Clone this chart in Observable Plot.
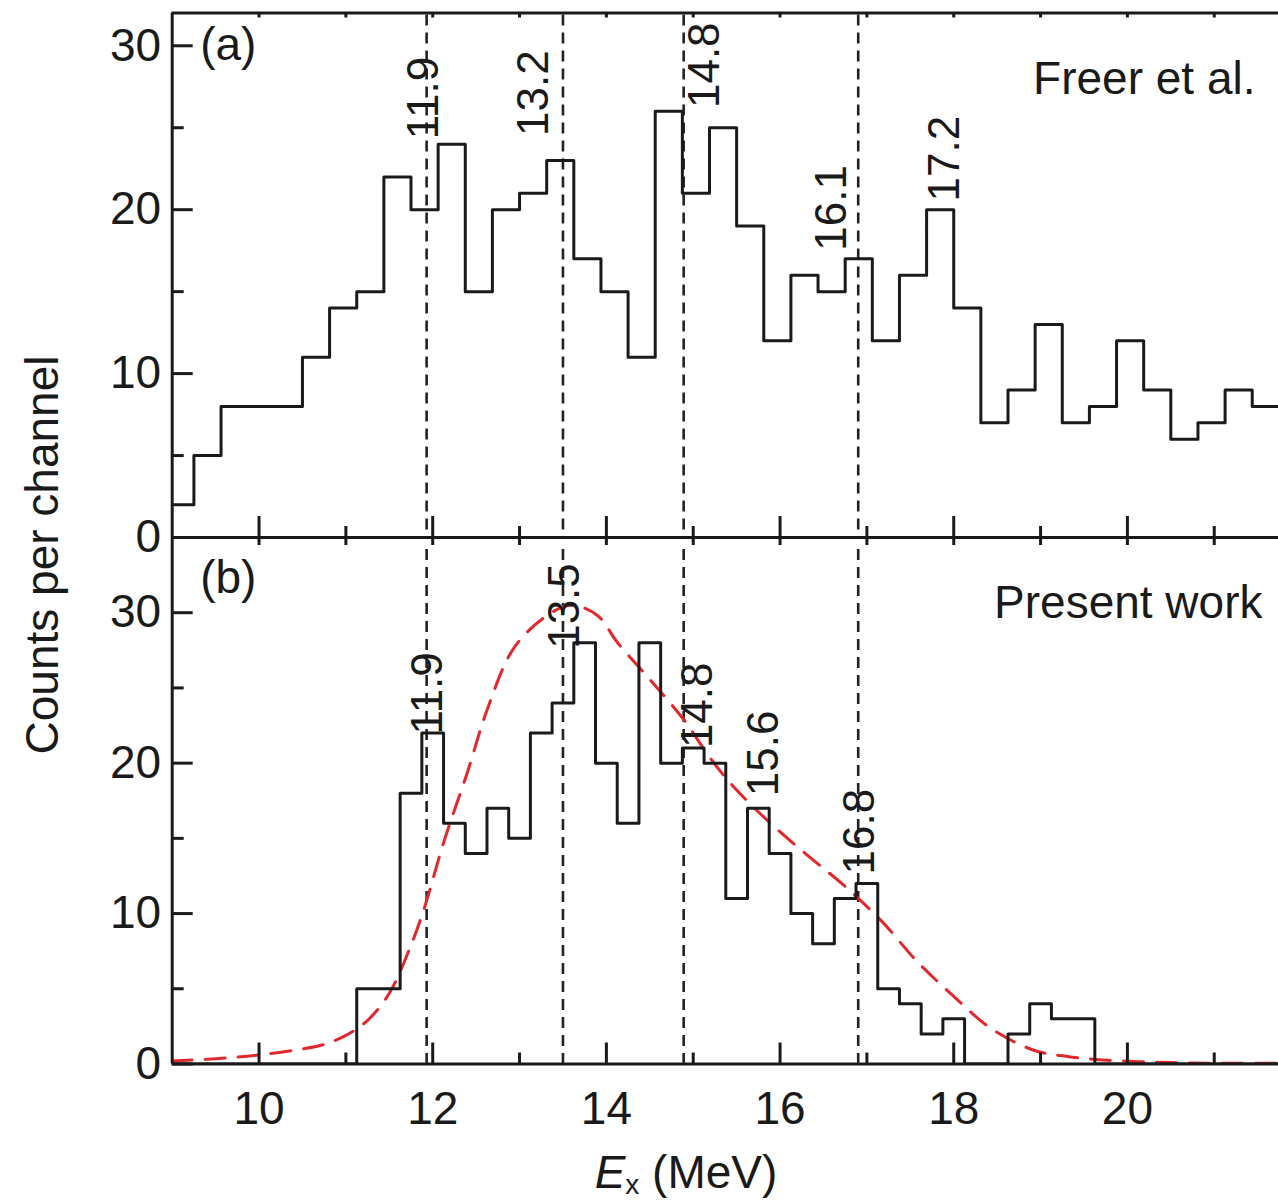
<!DOCTYPE html>
<html><head><meta charset="utf-8">
<script src="https://cdn.jsdelivr.net/npm/d3@7"></script>
<script src="https://cdn.jsdelivr.net/npm/@observablehq/plot@0.6"></script>
<style>
body{margin:0;background:#fff;}
#wrap{position:relative;width:1278px;height:1200px;overflow:hidden;font-family:"Liberation Sans",Arial,sans-serif;color:#1a1a1a;}
#wrap svg{position:absolute;left:0;top:0;}
.ttl{position:absolute;font-size:46px;line-height:46px;white-space:nowrap;text-align:center;}
</style></head><body><div id="wrap"></div>
<script>
// ---------- data ----------
const xDomain = [9, 21.74];
// (a) Freer et al. histogram
const topBinStart = 8.9375, topBinWidth = 0.3125;
const topCounts = [2,5,8,8,8,11,14,15,22,20,24,15,20,21,23,17,15,11,26,21,25,19,12,16,15,17,12,16,20,14,7,9,13,7,8,12,9,6,7,9,8];
// (b) Present work histogram
const botBinStart = 11.125, botBinWidth = 0.25;
const botCounts = [5,5,18,22,16,14,17,15,22,24,28,20,16,28,20,21,20,11,17,14,10,8,11,12,5,4,2,3,0,0,2,4,3,3,0];
// red dashed fit curve
const fitX = [9.0,9.5,10.0,10.5,10.75,11.0,11.25,11.5,11.75,11.9,12.13,12.4,12.63,12.94,13.34,13.6,13.9,14.13,14.51,14.89,15.2,15.47,15.89,16.31,16.73,17.17,17.58,18.0,18.42,18.93,19.31,19.77,20.5,21.0,21.74];
const fitY = [0.2,0.35,0.6,1.0,1.3,1.9,2.9,4.7,7.9,10.3,14.8,19.4,23.6,27.7,29.9,30.5,29.8,28.0,25.5,22.9,20.3,18.4,16.0,13.9,11.9,9.5,6.8,4.5,2.4,0.9,0.5,0.25,0.1,0.05,0.05];
// vertical dashed marker lines (MeV)
const markerLines = [11.93, 13.5, 14.89, 16.9];
// peak labels: text and anchor (x in MeV, y in counts at text start)
const topLabelText = ["11.9","13.2","14.8","16.1","17.2"];
const topLabelX = [11.9, 13.16, 15.13, 16.6, 17.9];
const topLabelY = [24.3, 24.5, 26.2, 17.5, 20.5];
const botLabelText = ["11.9","13.5","14.8","15.6","16.8"];
const botLabelX = [11.95, 13.52, 15.05, 15.81, 16.92];
const botLabelY = [21.9, 27.6, 21.0, 17.8, 12.6];
// ticks
const xTickLabels = [10,12,14,16,18,20];
const xMajor = [10,12,14,16,18,20];
const xMinor = [11,13,15,17,19,21];
const yTickLabels = [0,10,20,30];
const yMinor = [5,15,25];
const topYMax = 32, botYMax = 35;

// ---------- build tables ----------
function histPoints(start, w, counts, leadZero) {
  const pts = counts.map((c,i)=>({x:start+i*w, y:c}));
  pts.push({x:start+counts.length*w, y:counts[counts.length-1]});
  if (leadZero) { pts.unshift({x:xDomain[0], y:0}); pts.push({x:xDomain[1], y:0}); }
  return pts;
}
const topHist = histPoints(topBinStart, topBinWidth, topCounts, false);
const botHist = histPoints(botBinStart, botBinWidth, botCounts, true);
const fit = fitX.map((x,i)=>({x, y:fitY[i]}));
const topLabels = topLabelText.map((t,i)=>({t, x:topLabelX[i], y:topLabelY[i]}));
const botLabels = botLabelText.map((t,i)=>({t, x:botLabelX[i], y:botLabelY[i]}));

const W = 1278, ML = 171.7;
const PW = W - ML;
const ink = "#1a1a1a", SW = 3;
const font = '"Liberation Sans", Arial, Helvetica, sans-serif';

function panel({yMax, height, mt, mb, hist, labels, tag, tagDy, name, nameDx, nameDy, fitData, xAxis, topTick, dashInset}) {
  const PH = height - mt - mb;
  const marks = [
    Plot.ruleX(markerLines, {x: d=>d, stroke:"#222", strokeWidth:2.6, strokeDasharray:"11,7", insetTop:dashInset}),
  ];
  if (fitData) marks.push(Plot.line(fitData, {x:"x", y:"y", curve:"catmull-rom", stroke:"#e3282d", strokeWidth:3, strokeDasharray:"20,13", clip:true}));
  marks.push(
    Plot.line(hist, {x:"x", y:"y", curve:"step-after", stroke:ink, strokeWidth:SW, clip:true}),
    Plot.ruleY([0, yMax], {y:d=>d, stroke:ink, strokeWidth:SW}),
    Plot.ruleX([xDomain[0]], {x:d=>d, stroke:ink, strokeWidth:SW}),
    Plot.ruleY(yTickLabels, {y:d=>d, insetRight: PW-21, stroke:ink, strokeWidth:SW}),
    Plot.ruleY(yMinor, {y:d=>d, insetRight: PW-12, stroke:ink, strokeWidth:SW}),
    Plot.ruleX(xMajor, {x:d=>d, insetTop: PH-21, stroke:ink, strokeWidth:SW}),
    Plot.ruleX(xMinor, {x:d=>d, insetTop: PH-11, stroke:ink, strokeWidth:SW}),
    Plot.ruleX(xMajor.concat(xMinor), {x:d=>d, insetBottom: PH-topTick, stroke:ink, strokeWidth:SW}),
    Plot.axisY(yTickLabels, {anchor:"left", tickSize:0, tickPadding:11, fontSize:46, fill:ink, label:null}),
    Plot.text(labels, {x:"x", y:"y", text:"t", rotate:-90, textAnchor:"start", lineAnchor:"middle", fontSize:44, fill:ink}),
    Plot.text([tag], {text:d=>d, frameAnchor:"top-left", textAnchor:"start", lineAnchor:"top", dx:28, dy:tagDy, fontSize:46, fill:ink}),
    Plot.text([name], {text:d=>d, frameAnchor:"top-right", textAnchor:"end", lineAnchor:"top", dx:nameDx, dy:nameDy, fontSize:46, fill:ink})
  );
  if (xAxis) marks.push(Plot.axisX(xTickLabels, {anchor:"bottom", tickSize:0, tickPadding:27, fontSize:46, fill:ink, label:null}));
  return Plot.plot({
    width:W, height, marginLeft:ML, marginRight:0, marginTop:mt, marginBottom:mb,
    x:{domain:xDomain, axis:null, label:null},
    y:{domain:[0,yMax], axis:null, label:null},
    style:{background:"transparent", overflow:"visible", fontFamily:font},
    marks
  });
}

const wrap = document.getElementById("wrap");
const botSvg = panel({yMax:botYMax, height:1200, mt:537, mb:136.5, hist:botHist, labels:botLabels, tag:"(b)", tagDy:23, name:"Present work", nameDx:-16, nameDy:48, fitData:fit, xAxis:true, topTick:8, dashInset:12});
const topSvg = panel({yMax:topYMax, height:540, mt:12.5, mb:3, hist:topHist, labels:topLabels, tag:"(a)", tagDy:14, name:"Freer et al.", nameDx:-23, nameDy:48, fitData:null, xAxis:false, topTick:5, dashInset:2});
wrap.appendChild(botSvg);
wrap.appendChild(topSvg);

const yt = document.createElement("div");
yt.className = "ttl";
yt.style.cssText = "left:-258px;top:532px;width:600px;transform:rotate(-90deg);";
yt.textContent = "Counts per channel";
wrap.appendChild(yt);

const xt = document.createElement("div");
xt.className = "ttl";
xt.style.cssText = "left:486px;top:1149px;width:400px;";
xt.innerHTML = '<i>E</i><span style="font-size:28px;position:relative;top:6px;">x</span> (MeV)';
wrap.appendChild(xt);
</script></body></html>
